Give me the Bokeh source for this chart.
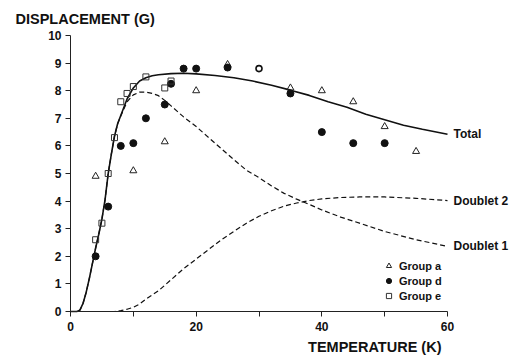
from bokeh.plotting import figure
from bokeh.models import Label, FixedTicker, Legend
from bokeh.embed import file_html
from bokeh.resources import INLINE

# ---- data ----
group_a_x = [4, 10, 15, 20, 25, 35, 40, 45, 50, 55]
group_a_y = [4.9, 5.1, 6.15, 8.0, 8.95, 8.1, 8.0, 7.6, 6.7, 5.8]

group_d_x = [4, 6, 8, 10, 12, 15, 16, 18, 20, 25, 35, 40, 45, 50]
group_d_y = [2.0, 3.8, 6.0, 6.1, 7.0, 7.5, 8.25, 8.8, 8.8, 8.84, 7.9, 6.5, 6.1, 6.1]

group_e_x = [4, 5, 6, 7, 8, 9, 10, 12, 15, 16]
group_e_y = [2.6, 3.2, 5.0, 6.3, 7.6, 7.9, 8.15, 8.5, 8.1, 8.35]

other_x = [30]
other_y = [8.8]

total_x = [0, 1.0, 1.5, 2.0, 2.5, 3.0, 3.5, 4.0, 4.5, 5.0, 5.5, 6.0, 6.5, 7.0, 7.5, 8.0, 9.0, 10, 11, 12, 13, 14,
           16, 18, 20, 23, 26, 29, 32, 35, 38, 41, 44, 47, 50, 53, 56, 60]
total_y = [0, 0, 0.05, 0.3, 0.7, 1.2, 1.75, 2.3, 2.8, 3.35, 4.05, 5.0, 5.7, 6.35, 6.8, 7.1, 7.7, 8.1, 8.35, 8.47,
           8.54, 8.58, 8.62, 8.63, 8.61, 8.55, 8.47, 8.35, 8.2, 8.02, 7.83, 7.6, 7.4, 7.15, 6.95, 6.75, 6.6, 6.42]

d1_x = [0, 1.0, 1.5, 2.0, 2.5, 3.0, 3.5, 4.0, 4.5, 5.0, 5.5, 6.0, 6.5, 7.0, 7.5, 8.0, 9, 10, 11, 12, 13, 14, 15,
        16, 17, 18, 20, 22, 24, 26, 28, 30, 32, 34, 36, 38, 40, 43, 46, 50, 55, 60]
d1_y = [0, 0, 0.05, 0.3, 0.7, 1.2, 1.75, 2.3, 2.8, 3.35, 4.05, 5.0, 5.7, 6.35, 6.8, 7.08, 7.6, 7.85, 7.95, 7.95,
        7.9, 7.82, 7.65, 7.45, 7.25, 7.05, 6.7, 6.3, 5.9, 5.5, 5.12, 4.85, 4.55, 4.28, 4.07, 3.88, 3.68, 3.42,
        3.2, 2.9, 2.6, 2.36]

d2_x = [0, 7, 8, 9, 10, 11, 12, 13, 14, 16, 18, 20, 22, 24, 26, 28, 30, 32, 34, 36, 38, 40, 43, 46, 50, 55, 60]
d2_y = [0, 0, 0.03, 0.08, 0.15, 0.27, 0.45, 0.6, 0.75, 1.15, 1.55, 1.9, 2.25, 2.6, 2.9, 3.2, 3.45, 3.65, 3.82,
        3.93, 4.02, 4.08, 4.13, 4.15, 4.15, 4.1, 4.02]

x_ticks = [0, 20, 40, 60]
x_minor = [10, 30, 50]
y_ticks = list(range(0, 11))

FONT = "Liberation Sans"
INK = "#111111"

# frame covers the whole canvas; axes sit at data 0 via fixed_location
W, H = 513, 356
PX_X = 377 / 60.0     # px per K
PX_Y = 276 / 10.0     # px per G
X0, Y0 = 70, 311      # canvas position of the origin
p = figure(width=W, height=H,
           x_range=(-X0 / PX_X, (W - X0) / PX_X),
           y_range=(-(H - Y0) / PX_Y, Y0 / PX_Y),
           output_backend="svg", toolbar_location=None,
           min_border=0)
p.outline_line_color = None
p.grid.grid_line_color = None
p.background_fill_color = "white"

p.xaxis.ticker = FixedTicker(ticks=x_ticks, minor_ticks=x_minor)
p.yaxis.ticker = FixedTicker(ticks=y_ticks, minor_ticks=[])
p.xaxis.fixed_location = 0
p.yaxis.fixed_location = 0
p.xaxis.bounds = (0, 60)
p.yaxis.bounds = (0, 10)
for ax in (p.xaxis, p.yaxis):
    ax.axis_line_color = "#222222"
    ax.major_tick_line_color = "#222222"
    ax.minor_tick_line_color = "#222222"
    ax.major_tick_in = 0
    ax.minor_tick_in = 0
    ax.major_label_text_font = FONT
    ax.major_label_text_font_style = "bold"
    ax.major_label_text_font_size = "12px"
    ax.major_label_text_color = INK
p.xaxis.major_tick_out = 5
p.xaxis.minor_tick_out = 5
p.yaxis.major_tick_out = 5
p.xaxis.major_label_standoff = 5
p.yaxis.major_label_standoff = 4

# curves
p.line(total_x, total_y, line_color=INK, line_width=1.6)
p.line(d1_x, d1_y, line_color=INK, line_width=1.2, line_dash="5 3")
p.line(d2_x, d2_y, line_color=INK, line_width=1.2, line_dash="5 3")

# points
ra = p.scatter(group_a_x, group_a_y, marker="triangle", size=7, fill_color=None,
               line_color="#222222", line_width=1)
rd = p.scatter(group_d_x, group_d_y, marker="circle", size=7, fill_color=INK,
               line_color=INK)
re = p.scatter(group_e_x, group_e_y, marker="square", size=6, fill_color=None,
               line_color="#333333", line_width=1)
p.scatter(other_x, other_y, marker="circle", size=6, fill_color=None,
          line_color=INK, line_width=1.6)

legend = Legend(items=[("Group a", [ra]), ("Group d", [rd]), ("Group e", [re])],
                location=(382, H - 302))
legend.border_line_color = None
legend.background_fill_alpha = 0
legend.padding = 0
legend.margin = 0
legend.spacing = 2
legend.glyph_height = 13
legend.glyph_width = 13
legend.label_height = 13
legend.label_standoff = 4
legend.label_text_font = FONT
legend.label_text_font_style = "bold"
legend.label_text_font_size = "11px"
legend.label_text_color = INK
p.add_layout(legend)

# curve labels
for txt, yv in (("Total", total_y[-1]), ("Doublet 2", d2_y[-1]), ("Doublet 1", d1_y[-1])):
    p.add_layout(Label(x=60, y=yv, x_offset=6, text=txt, text_baseline="middle",
                       text_font=FONT, text_font_style="bold", text_font_size="12px",
                       text_color=INK))

# axis titles
p.add_layout(Label(x=15, y=H - 18, x_units="screen", y_units="screen",
                   text="DISPLACEMENT (G)", text_baseline="middle",
                   text_font=FONT, text_font_style="bold", text_font_size="14.5px",
                   text_color=INK))
p.add_layout(Label(x=445, y=H - 346, x_units="screen", y_units="screen",
                   text="TEMPERATURE  (K)", text_baseline="middle",
                   text_align="right", text_font=FONT, text_font_style="bold",
                   text_font_size="14.5px", text_color=INK))

open("out.html", "w").write(file_html(p, INLINE))
